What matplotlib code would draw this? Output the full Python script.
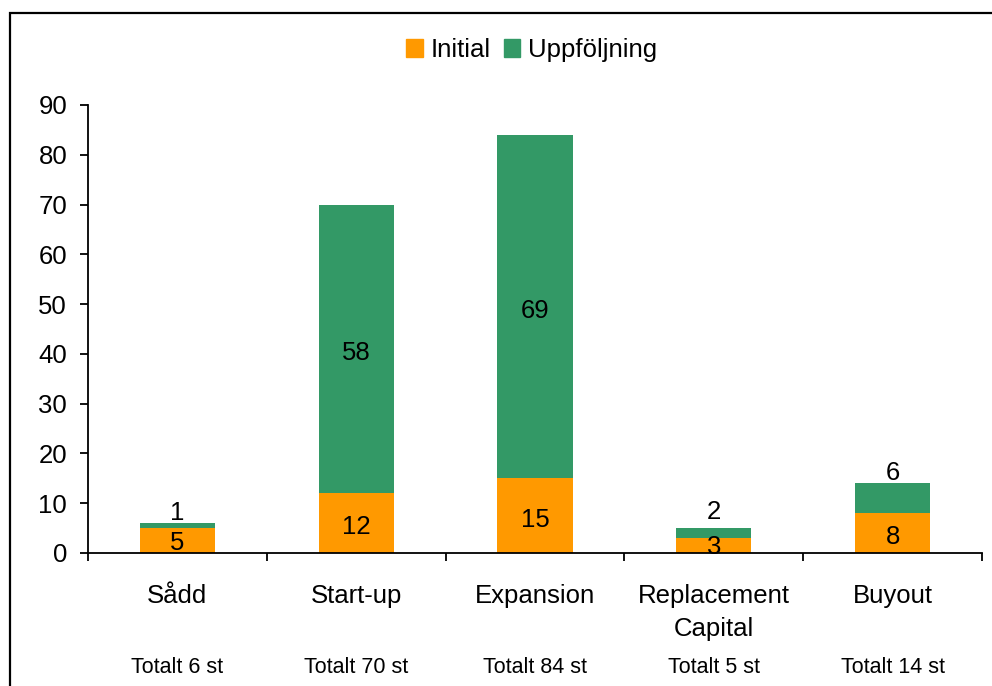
import matplotlib.pyplot as plt
from matplotlib.patches import Rectangle, Patch

plt.rcParams["font.family"] = ["Liberation Sans", "DejaVu Sans"]

# Data
categories = ["Sådd", "Start-up", "Expansion", "Replacement\nCapital", "Buyout"]
initial = [5, 12, 15, 3, 8]
uppfoljning = [1, 58, 69, 2, 6]
totals = ["Totalt 6 st", "Totalt 70 st", "Totalt 84 st", "Totalt 5 st", "Totalt 14 st"]

# label nudges in points (labels on thin segments are lifted)
init_nudge = [-2, -3, -3, -1, -3]
upp_nudge = [9, -3, -3, 15, 18]

ORANGE = "#FF9900"
GREEN = "#339966"

fig = plt.figure(figsize=(9.92, 6.86), dpi=100)
ax = fig.add_axes([0.0887, 0.1939, 0.9013, 0.6531])

x = list(range(len(categories)))
w = 0.42
ax.bar(x, initial, w, color=ORANGE, label="Initial")
ax.bar(x, uppfoljning, w, bottom=initial, color=GREEN, label="Uppföljning")

fs = 18.5
for i in x:
    ax.annotate(str(initial[i]), (i, initial[i] / 2), xytext=(0, init_nudge[i]),
                textcoords="offset points", ha="center", va="center", fontsize=fs)
    ax.annotate(str(uppfoljning[i]), (i, initial[i] + uppfoljning[i] / 2),
                xytext=(0, upp_nudge[i]), textcoords="offset points",
                ha="center", va="center", fontsize=fs)
    ax.text(i, -0.2567, totals[i], transform=ax.get_xaxis_transform(),
            ha="center", va="center", fontsize=15.5)

ax.set_xlim(-0.5, 4.5)
ax.set_ylim(0, 90)
ax.set_yticks(range(0, 91, 10))
ax.tick_params(axis="y", direction="out", length=6, width=1.3, labelsize=fs, pad=9)

ax.set_xticks(x)
ax.set_xticklabels(categories, fontsize=fs, linespacing=1.5)
ax.set_xticks([v - 0.5 for v in range(len(categories) + 1)], minor=True)
ax.tick_params(axis="x", which="major", length=0, pad=22)
ax.tick_params(axis="x", which="minor", direction="out", length=6, width=1.3)

for side in ["top", "right"]:
    ax.spines[side].set_visible(False)
for side in ["left", "bottom"]:
    ax.spines[side].set_linewidth(1.3)

fig.legend(handles=[Patch(color=ORANGE, label="Initial"), Patch(color=GREEN, label="Uppföljning")],
           loc="center", bbox_to_anchor=(0.536, 0.927), ncol=2, frameon=False,
           fontsize=fs, handlelength=0.65, handleheight=0.65,
           handletextpad=0.3, columnspacing=0.5)

# chart frame
fig.add_artist(Rectangle((0.0105, -0.2), 1.5, 1.181, transform=fig.transFigure,
                         fill=False, edgecolor="black", linewidth=1.6))

fig.savefig("out.png", dpi=100)
